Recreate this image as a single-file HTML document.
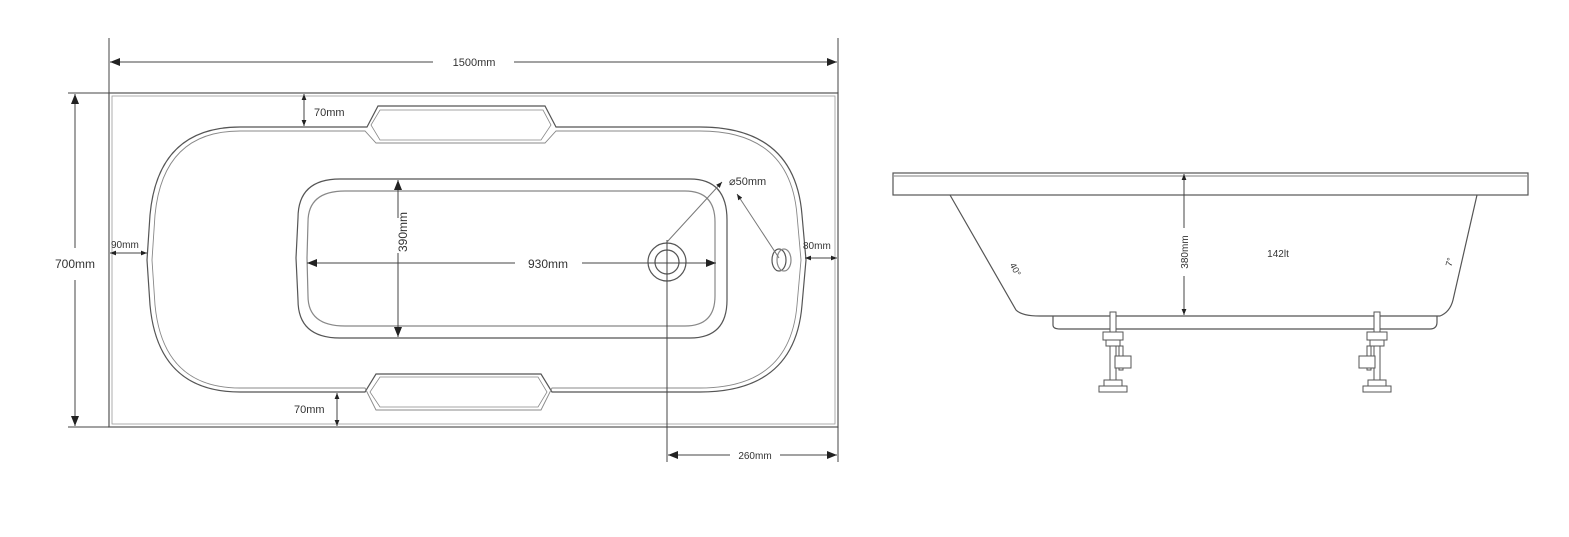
<!DOCTYPE html>
<html><head><meta charset="utf-8"><style>
html,body{margin:0;padding:0;background:#fff;}
svg{display:block;}
text{font-family:"Liberation Sans",sans-serif;fill:#333;}
</style></head><body>
<svg width="1569" height="537" viewBox="0 0 1569 537" xmlns="http://www.w3.org/2000/svg">
<defs>
<marker id="a" viewBox="0 0 10 10" refX="10" refY="5" markerWidth="10" markerHeight="10" markerUnits="userSpaceOnUse" orient="auto-start-reverse"><path d="M0,1 L10,5 L0,9 z" fill="#222"/></marker>
<marker id="s" viewBox="0 0 10 10" refX="10" refY="5" markerWidth="6" markerHeight="6" markerUnits="userSpaceOnUse" orient="auto-start-reverse"><path d="M0,1 L10,5 L0,9 z" fill="#222"/></marker>
</defs>
<g fill="none" stroke="#555" stroke-width="1.2">
<rect x="109" y="93" width="729" height="334"/>
<rect x="112" y="96" width="723" height="328" stroke="#999" stroke-width="0.8"/>
<path d="M240,127 L367,127 L378,106 L545,106 L556,127 L700,127 Q795,127 802,215 L806,260 L802,305 Q795,392 700,392 L552,392 L541,374 L376,374 L365,392 L240,392 Q158,392 150,305 L147,260 L150,215 Q158,127 240,127 Z"/>
<path d="M240,131 L365,131 L376,143 L545,143 L556,131 L700,131 Q790,131 797,215 L801,260 L797,305 Q790,388 700,388 L552,388 L541,410 L376,410 L365,388 L240,388 Q163,388 155,305 L152,260 L155,215 Q163,131 240,131 Z" stroke="#888" stroke-width="0.9"/>
<path d="M380,110 L543,110 L551,125 L541,140 L380,140 L371,125 Z" stroke="#888" stroke-width="0.8"/>
<path d="M380,377 L538,377 L547,392 L538,407 L380,407 L370,392 Z" stroke="#888" stroke-width="0.8"/>
<path d="M340,179 L690,179 Q727,179 727,220 L727,300 Q727,338 690,338 L340,338 Q298,338 298,300 L296,258 L298,218 Q298,179 340,179 Z"/>
<path d="M345,191 L685,191 Q715,191 715,222 L715,296 Q715,326 685,326 L345,326 Q308,326 308,296 L307,258 L308,222 Q308,191 345,191 Z" stroke="#888"/>
<circle cx="667" cy="262" r="19"/>
<circle cx="667" cy="262" r="12"/>
<ellipse cx="779" cy="260" rx="7" ry="11"/>
<ellipse cx="784" cy="260" rx="7" ry="11" stroke="#888"/>
<rect x="893" y="173" width="635" height="22"/>
<line x1="893" y1="176" x2="1528" y2="176" stroke="#999"/>
<path d="M950,195 L1016,310 Q1022,316 1040,316 L1440,316 Q1450,312 1453,300 L1477,195"/>
<path d="M1053,316 L1053,325 Q1053,329 1060,329 L1430,329 Q1437,329 1437,322 L1437,316"/>
</g>
<g fill="#fff" stroke="#555" stroke-width="1">
<g id="leg">
<rect x="1110" y="312" width="6" height="72"/>
<rect x="1103" y="332" width="20" height="8"/>
<rect x="1106" y="340" width="14" height="6"/>
<rect x="1119" y="346" width="4" height="24"/>
<rect x="1115" y="356" width="16" height="12"/>
<rect x="1104" y="380" width="18" height="12"/>
<rect x="1099" y="386" width="28" height="6"/>
</g>
<use href="#leg" transform="translate(2490,0) scale(-1,1)"/>
</g>
<g stroke="#444" stroke-width="1" fill="none">
<line x1="109" y1="38" x2="109" y2="93"/><line x1="838" y1="38" x2="838" y2="93"/>
<line x1="110" y1="62" x2="433" y2="62" marker-start="url(#a)"/>
<line x1="514" y1="62" x2="837" y2="62" marker-end="url(#a)"/>
<line x1="68" y1="93" x2="109" y2="93"/><line x1="68" y1="427" x2="109" y2="427"/>
<line x1="75" y1="94" x2="75" y2="248" marker-start="url(#a)"/>
<line x1="75" y1="280" x2="75" y2="426" marker-end="url(#a)"/>
<line x1="304" y1="94" x2="304" y2="126" marker-start="url(#s)" marker-end="url(#s)"/>
<line x1="337" y1="393" x2="337" y2="426" marker-start="url(#s)" marker-end="url(#s)"/>
<line x1="110" y1="253" x2="147" y2="253" marker-start="url(#s)" marker-end="url(#s)"/>
<line x1="805" y1="258" x2="837" y2="258" marker-start="url(#s)" marker-end="url(#s)"/>
<line x1="398" y1="180" x2="398" y2="218" marker-start="url(#a)"/>
<line x1="398" y1="253" x2="398" y2="337" marker-end="url(#a)"/>
<line x1="307" y1="263" x2="515" y2="263" marker-start="url(#a)"/>
<line x1="582" y1="263" x2="716" y2="263" marker-end="url(#a)"/>
<line x1="667" y1="240" x2="667" y2="462"/>
<line x1="838" y1="427" x2="838" y2="462"/>
<line x1="668" y1="455" x2="730" y2="455" marker-start="url(#a)"/>
<line x1="780" y1="455" x2="837" y2="455" marker-end="url(#a)"/>
<line x1="667" y1="242" x2="722" y2="182" marker-end="url(#s)" stroke="#777"/>
<line x1="779" y1="258" x2="737" y2="194" marker-end="url(#s)" stroke="#777"/>
<line x1="1184" y1="174" x2="1184" y2="228" marker-start="url(#s)"/>
<line x1="1184" y1="276" x2="1184" y2="315" marker-end="url(#s)"/>
</g>
<g font-size="11">
<text x="474" y="66" text-anchor="middle">1500mm</text>
<text x="75" y="268" text-anchor="middle" font-size="12">700mm</text>
<text x="314" y="116">70mm</text>
<text x="294" y="413">70mm</text>
<text x="111" y="248" font-size="10">90mm</text>
<text x="803" y="249" font-size="10">80mm</text>
<text x="548" y="268" text-anchor="middle" font-size="12">930mm</text>
<text x="403" y="236" text-anchor="middle" font-size="12" transform="rotate(-90 403 232)">390mm</text>
<text x="729" y="185" font-size="11">⌀50mm</text>
<text x="755" y="459" text-anchor="middle" font-size="10">260mm</text>
<text x="1188" y="252" text-anchor="middle" font-size="10" transform="rotate(-90 1188 252)">380mm</text>
<text x="1278" y="257" text-anchor="middle" font-size="10">142lt</text>
<text x="1013" y="267" font-size="9" transform="rotate(62 1013 263)">40°</text>
<text x="1446" y="268" font-size="9" transform="rotate(-75 1448 264)">7°</text>
</g>
</svg>
</body></html>
